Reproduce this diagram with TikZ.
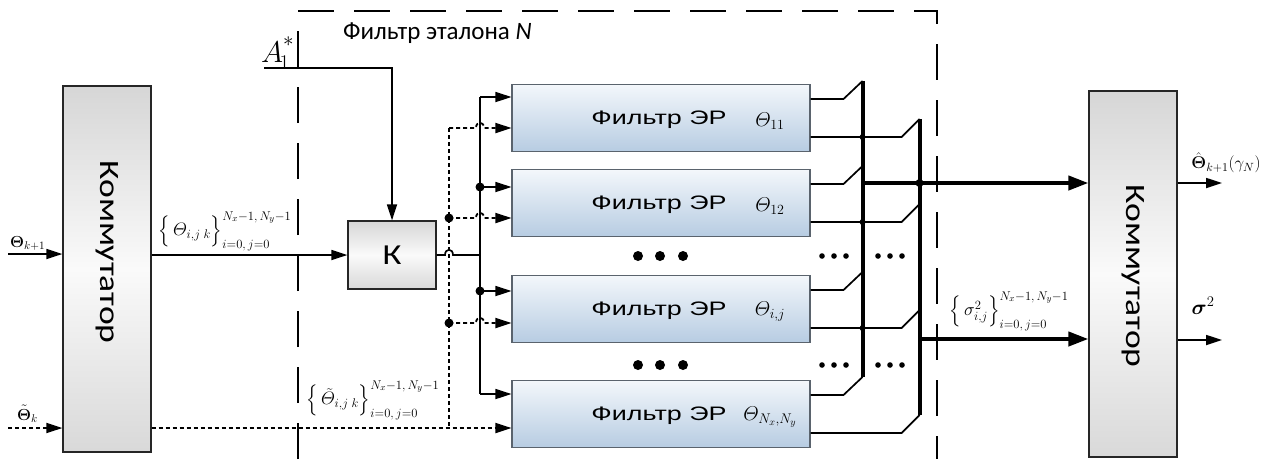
\documentclass[tikz,border=0pt]{standalone}
\usepackage{fix-cm}
\usepackage{amsmath}
\usepackage[no-math]{fontspec}
\setmainfont{Carlito}
\newfontfamily\erfont{Liberation Sans}
\usetikzlibrary{arrows.meta,calc}
\definecolor{erTop}{HTML}{F3F7FB}
\definecolor{erBot}{HTML}{B7CCE2}
\definecolor{erEdge}{HTML}{5A636D}
\newcommand{\wide}[2]{\scalebox{#1}[1]{#2}}
\newcommand{\fs}[1]{\fontsize{#1}{#1}\selectfont}
\newcommand{\bset}[1]{\left\{\,#1\vphantom{\Big(}\right\}_{i=0,\,j=0}^{N_x-1,\,N_y-1}}
\begin{document}
\begin{tikzpicture}[x=1pt, y=-1pt, every node/.style={inner sep=0pt},
  komm/.style={draw=black!85, line width=1.2pt, top color=gray!32, bottom color=gray!30, middle color=gray!4, minimum width=88pt},
  erbox/.style={draw=erEdge, line width=1.1pt, top color=erTop, bottom color=erBot, minimum width=298pt, minimum height=67pt},
  ertext/.style={font=\erfont\fs{19.5}, anchor=base},
  sig/.style={line width=1.7pt},
  dotsig/.style={line width=1.8pt, dash pattern=on 4pt off 3pt},
  bus/.style={line width=4pt},
  arr/.style={-{Triangle[length=16pt,width=10pt]}},
  bigarr/.style={-{Triangle[length=20pt,width=14pt]}},
  etalon/.style={line width=1.6pt, dash pattern=on 36pt off 20pt},
  jn/.style={circle, fill, minimum size=9pt},
  jnsmall/.style={circle, fill, minimum size=6pt}]
\useasboundingbox (0,0) rectangle (1266,459);
\draw[etalon] (298,459) -- (298,11) -- (937,11) -- (937,459);
\node[font=\fs{25}, anchor=base west] (etl) at (343,39) {Фильтр эталона \textit{N}};

\node[komm, minimum height=366pt] (kl) at (107,269) {};
\node[font=\fs{28}, rotate=-90] (klt) at (107,252) {\wide{1.27}{Коммутатор}};
\node[komm, minimum height=366pt] (kr) at (1133,274) {};
\node[font=\fs{28}, rotate=-90] (krt) at (1133,276) {\wide{1.27}{Коммутатор}};
\node[komm, minimum width=88pt, minimum height=68pt] (k) at (392,255) {\fs{29}\wide{1.2}{К}};

\foreach \n/\y/\s in {1/118/{11},2/203/{12},3/309/{i,j},4/414/{N_x,N_y}} {
  \node[erbox] (er\n) at (661,\y) {};
  \node[ertext] (ert\n) at (659,\y+6) {\wide{1.38}{Фильтр ЭР}};
  \node[font=\fs{20}] (erth\n) at (770,\y+3) {$\varTheta_{\s}$};
}

\coordinate (a1) at (264,68);
\draw[sig,arr] (a1) -- (a1 -| k.north) -- (k.north);
\node[font=\fs{30}, anchor=base west] (a1t) at (261,62) {$A_{\!1}^{\raisebox{5pt}{$\scriptstyle *$}}$};

\coordinate (thin) at (8,254);
\coordinate (ttin) at (8,428);
\draw[sig,arr] (thin) -- (thin -| kl.west);
\draw[dotsig,arr] (ttin) -- (ttin -| kl.west);
\node[font=\fs{16}, anchor=base west] (tht) at (10,247) {$\mathbf{\Theta}_{k+1}$};
\node[font=\fs{16}, anchor=base west] (ttt) at (17,420) {$\tilde{\mathbf{\Theta}}_{k}$};

\draw[sig,arr] (k.west -| kl.east) -- (k.west);
\node[font=\fs{18}] (thset) at (225,231) {$\bset{\varTheta_{i,j\;k}}$};
\node[font=\fs{18}] (ttset) at (373,400) {$\bset{\tilde{\varTheta}_{i,j\;k}}$};

\foreach \n/\ys/\yd in {1/97/128,2/187/218,3/291/323,4/394/428} {
  \coordinate (s\n) at (480,\ys);
  \coordinate (d\n) at (449,\yd);
}
\coordinate (kb) at (480,255);
\draw[sig] (k.east) -- (445,255) .. controls (445,248) and (453,248) .. (453,255) -- (kb);
\draw[sig] (s1) -- (s4);
\draw[dotsig] (d1) -- (d4);
\foreach \n in {1,...,4} \draw[sig,arr] (s\n) -- (s\n -| er\n.west);
\foreach \n in {1,2,3} \draw[dotsig,arr] (d\n) -- ++(27,0) .. controls +(0,-7) and +(0,-7) .. ++(8,0) -- (d\n -| er\n.west);
\draw[dotsig,arr] (ttin -| kl.east) -- (ttin -| er4.west);
\node[jn] (js2) at (s2) {};
\node[jn] (js3) at (s3) {};
\node[jn] (jd2) at (d2) {};
\node[jn] (jd3) at (d3) {};

\foreach \y in {256,365} {
  \foreach \x in {638,660,683} \fill (\x,\y) circle[radius=5];
  \foreach \x in {822,834,846,878,890,902} \fill (\x,\y) circle[radius=2.8];
}

\foreach \n in {1,...,4} {
  \draw[sig] ($(er\n.north east)+(0,15)$) -- ++(33,0) -- ++(19,-18) coordinate (u\n);
  \draw[sig] ($(er\n.south east)+(0,-15)$) coordinate (lo\n) -- ++(91,0) -- ++(18,-18) coordinate (l\n);
}
\draw[bus] (u1) -- (u4);
\draw[bus] (l1) -- (l4);
\foreach \n in {1,2,3} \node[jnsmall] (jl\n) at (lo\n -| u1) {};

\coordinate (o1) at (862,183);
\coordinate (o2) at (919,339);
\draw[bus,bigarr] (o1) -- (o1 -| kr.west);
\draw[bus,bigarr] (o2) -- (o2 -| kr.west);
\node[jn, minimum size=8pt] (jo) at (o1 -| l1) {};
\node[font=\fs{18}] (sgset) at (1009,311) {$\bset{\sigma^{2}_{i,j}}$};

\coordinate (q1) at (1222,183);
\coordinate (q2) at (1222,340);
\draw[sig,arr] (q1 -| kr.east) -- (q1);
\draw[sig,arr] (q2 -| kr.east) -- (q2);
\node[font=\fs{17}] (qt1) at (1226,163) {$\hat{\mathbf{\Theta}}_{k+1}(\gamma_N)$};
\node[font=\fs{21}] (qt2) at (1203,306) {$\boldsymbol{\sigma}^{2}$};
\end{tikzpicture}
\end{document}
